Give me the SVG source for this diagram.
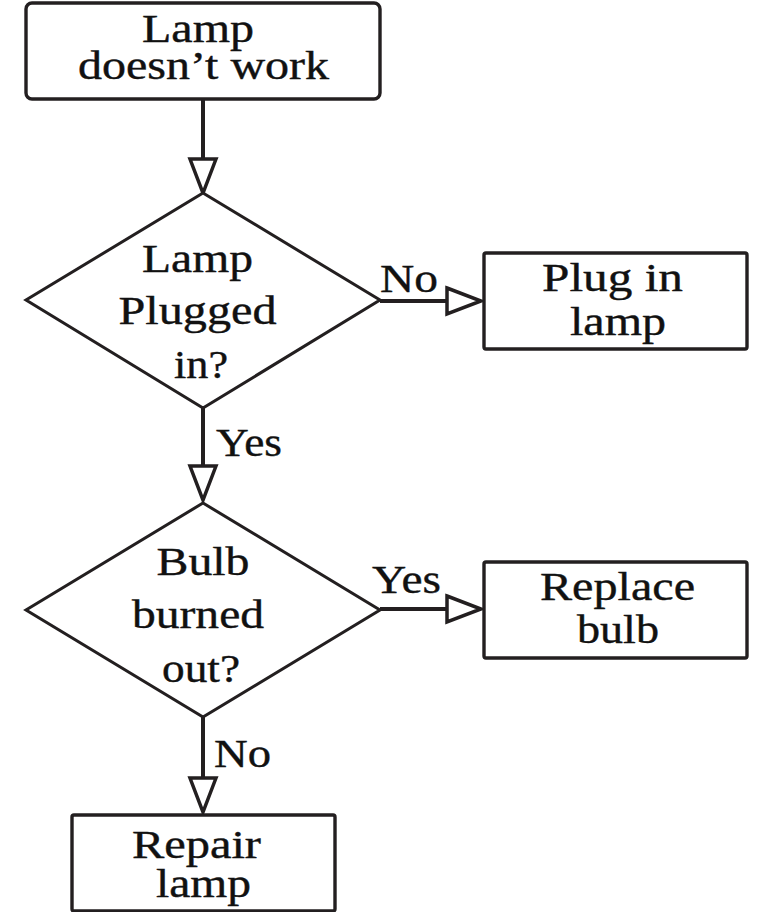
<svg xmlns="http://www.w3.org/2000/svg" width="762" height="912" viewBox="0 0 762 912">
<style>
.box{fill:#fff;stroke:#231f20;stroke-width:3.4}
.dia{fill:#fff;stroke:#231f20;stroke-width:3;stroke-linejoin:miter}
.con{fill:none;stroke:#231f20;stroke-width:4}
.t{font-family:'Liberation Serif',serif;font-size:41px;fill:#111;stroke:#111;stroke-width:0.4;text-anchor:middle}
.lbl{font-family:'Liberation Serif',serif;font-size:41px;fill:#111;stroke:#111;stroke-width:0.4;text-anchor:start}
.sm{font-size:39px}
</style>
<defs>
<marker id="arr" viewBox="-3 -3 42 34" refX="35" refY="14" markerWidth="42" markerHeight="34" markerUnits="userSpaceOnUse" orient="auto" overflow="visible">
<path d="M1,1 L35,14 L1,27 Z" fill="#fff" stroke="#231f20" stroke-width="3.5" stroke-linejoin="miter"/>
</marker>
</defs>
<rect width="762" height="912" fill="#fff"/>
<g id="connectors">
<line class="con" x1="203" y1="99" x2="203" y2="193" marker-end="url(#arr)"/>
<line class="con" x1="203" y1="408" x2="203" y2="500" marker-end="url(#arr)"/>
<line class="con" x1="380" y1="301" x2="481" y2="301" marker-end="url(#arr)"/>
<line class="con" x1="380" y1="609" x2="481" y2="609" marker-end="url(#arr)"/>
<line class="con" x1="203" y1="717" x2="203" y2="812" marker-end="url(#arr)"/>
<text class="lbl" x="380" y="292" textLength="58" lengthAdjust="spacingAndGlyphs">No</text>
<text class="lbl" x="216" y="456" textLength="66" lengthAdjust="spacingAndGlyphs">Yes</text>
<text class="lbl" x="372" y="593" textLength="69" lengthAdjust="spacingAndGlyphs">Yes</text>
<text class="lbl" x="214" y="767" textLength="57" lengthAdjust="spacingAndGlyphs">No</text>
</g>
<g id="start">
<rect class="box" x="26" y="3" width="354" height="96" rx="6"/>
<text class="t sm" x="198" y="42" textLength="112" lengthAdjust="spacingAndGlyphs">Lamp</text>
<text class="t sm" x="203.5" y="79" textLength="251" lengthAdjust="spacingAndGlyphs">doesn’t work</text>
</g>
<g id="decision1">
<polygon class="dia" points="203,193 380,300 203,408 26,300"/>
<text class="t" x="197.5" y="272" textLength="111" lengthAdjust="spacingAndGlyphs">Lamp</text>
<text class="t" x="197.5" y="324" textLength="158" lengthAdjust="spacingAndGlyphs">Plugged</text>
<text class="t" x="201" y="378" textLength="54" lengthAdjust="spacingAndGlyphs">in?</text>
</g>
<g id="plugin">
<rect class="box" x="484" y="253" width="263" height="96" rx="2"/>
<text class="t" x="612.5" y="291" textLength="141" lengthAdjust="spacingAndGlyphs">Plug in</text>
<text class="t" x="618" y="335" textLength="96" lengthAdjust="spacingAndGlyphs">lamp</text>
</g>
<g id="decision2">
<polygon class="dia" points="203,503 380,610 203,717 26,610"/>
<text class="t" x="203" y="575" textLength="93" lengthAdjust="spacingAndGlyphs">Bulb</text>
<text class="t" x="198" y="628" textLength="132" lengthAdjust="spacingAndGlyphs">burned</text>
<text class="t" x="201" y="682" textLength="78" lengthAdjust="spacingAndGlyphs">out?</text>
</g>
<g id="replace">
<rect class="box" x="484" y="562" width="263" height="96" rx="2"/>
<text class="t" x="617.5" y="600" textLength="155" lengthAdjust="spacingAndGlyphs">Replace</text>
<text class="t" x="618" y="643" textLength="82" lengthAdjust="spacingAndGlyphs">bulb</text>
</g>
<g id="repair">
<rect class="box" x="72" y="815" width="263" height="96" rx="2"/>
<text class="t sm" x="196.5" y="858" textLength="129" lengthAdjust="spacingAndGlyphs">Repair</text>
<text class="t sm" x="203.5" y="897" textLength="95" lengthAdjust="spacingAndGlyphs">lamp</text>
</g>
</svg>
